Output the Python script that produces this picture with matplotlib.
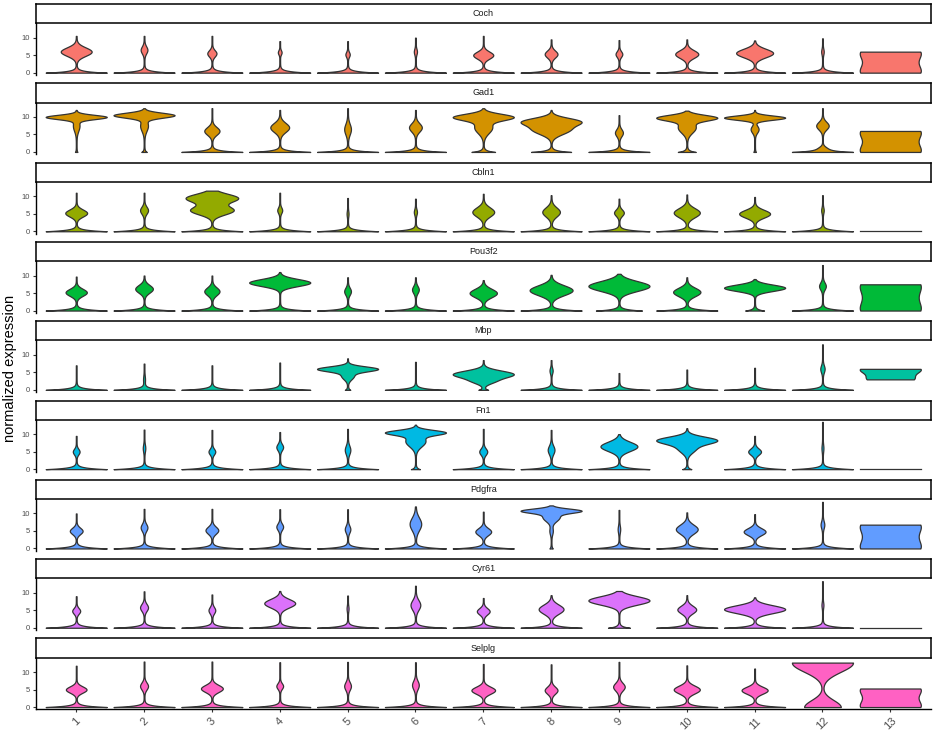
import numpy as np
import matplotlib
matplotlib.use('Agg')
import matplotlib.pyplot as plt

plt.rcParams['font.family'] = ['Liberation Sans', 'DejaVu Sans']

genes = ['Coch', 'Gad1', 'Cbln1', 'Pou3f2', 'Mbp', 'Fn1', 'Pdgfra', 'Cyr61', 'Selplg']
clusters = ['1', '2', '3', '4', '5', '6', '7', '8', '9', '10', '11', '12', '13']
colors = ['#F8766D', '#D39200', '#93AA00', '#00BA38', '#00C19F',
          '#00B9E3', '#619CFF', '#DB72FB', '#FF61C3']
y_ticks = [0, 5, 10]

# one violin per cluster: (zero spike weight, low, high, [(weight, centre, sd), ...])
# None = every cell is zero
coch = [
    (1, 0, 10.5, [(0.5, 6.0, 1.2)]),
    (1, 0, 10.5, [(0.1, 6.5, 1.0)]),
    (1, 0, 10.5, [(0.14, 5.5, 0.9)]),
    (1, 0, 9.0, [(0.05, 5.8, 0.6)]),
    (1, 0, 9.0, [(0.06, 5.2, 0.7)]),
    (1, 0, 10.0, [(0.04, 6.0, 0.8)]),
    (1, 0, 10.5, [(0.32, 5.0, 1.0)]),
    (1, 0, 9.5, [(0.2, 5.3, 1.0)]),
    (1, 0, 9.3, [(0.1, 5.3, 0.8)]),
    (1, 0, 9.5, [(0.37, 5.3, 1.1)]),
    (1, 0, 9.2, [(0.6, 5.6, 1.2)]),
    (1, 0, 9.8, [(0.03, 6.0, 0.8)]),
    (0, 0, 6.0, [(1, 0.0, 2.55), (1, 6.0, 2.55)]),
]
gad1 = [
    (0.03, 0, 12.0, [(1, 10.0, 0.6), (0.1, 7.5, 1.5)]),
    (0.08, 0, 12.5, [(1, 10.5, 0.7), (0.12, 7.5, 1.5)]),
    (1, 0, 12.5, [(0.24, 6.0, 1.1)]),
    (1, 0, 12.0, [(0.3, 7.0, 1.3)]),
    (1, 0, 12.5, [(0.1, 6.5, 1.5)]),
    (1, 0, 12.0, [(0.2, 7.0, 1.2)]),
    (0.4, 0, 12.5, [(1, 10.0, 0.9), (0.3, 7.0, 1.6)]),
    (0.8, 0, 12.0, [(1, 8.8, 1.0), (0.75, 6.5, 1.4)]),
    (1, 0, 10.5, [(0.12, 5.5, 1.0)]),
    (0.3, 0, 11.8, [(1, 9.8, 0.8), (0.3, 7.0, 1.5)]),
    (0.03, 0, 12.0, [(1, 9.8, 0.6), (0.12, 6.5, 1.0)]),
    (1, 0, 12.5, [(0.2, 7.5, 1.1), (0.1, 1.0, 0.6)]),
    (0, 0, 6.0, [(1, 0.0, 2.55), (1, 6.0, 2.55)]),
]
cbln1 = [
    (1, 0, 11.0, [(0.35, 5.2, 1.0)]),
    (1, 0, 11.0, [(0.12, 6.0, 1.0)]),
    (1, 0, 11.6, [(0.85, 9.5, 1.2), (0.7, 6.0, 1.2)]),
    (1, 0, 11.0, [(0.07, 6.0, 0.8)]),
    (1, 0, 9.5, [(0.02, 5.0, 0.8)]),
    (1, 0, 9.3, [(0.04, 5.5, 0.8)]),
    (1, 0, 10.7, [(0.35, 5.5, 1.3)]),
    (1, 0, 10.3, [(0.28, 5.5, 1.3)]),
    (1, 0, 9.3, [(0.15, 5.3, 0.9)]),
    (1, 0, 10.5, [(0.42, 5.3, 1.3)]),
    (1, 0, 9.8, [(0.5, 5.0, 1.1)]),
    (1, 0, 10.3, [(0.03, 6.0, 0.8)]),
    None,
]
pou3f2 = [
    (1, 0, 9.7, [(0.34, 5.2, 1.0)]),
    (1, 0, 10.0, [(0.28, 6.2, 1.1)]),
    (1, 0, 10.0, [(0.24, 5.5, 1.1)]),
    (1, 0, 11.0, [(1, 8.0, 1.0)]),
    (1, 0, 9.5, [(0.1, 5.5, 1.0)]),
    (1, 0, 9.5, [(0.1, 6.0, 1.0)]),
    (1, 0, 8.7, [(0.44, 5.0, 1.2)]),
    (1, 0, 10.2, [(0.7, 5.8, 1.4)]),
    (0.75, 0, 10.5, [(1, 7.0, 1.4)]),
    (1, 0, 9.5, [(0.44, 5.3, 1.2)]),
    (0.3, 0, 9.0, [(1, 6.5, 0.9)]),
    (1, 0, 13.0, [(0.1, 7.0, 1.0)]),
    (0, 0, 7.5, [(1, 0.0, 3.2), (1, 7.5, 3.2)]),
]
mbp = [
    (1, 0, 7.0, []),
    (1, 0, 7.5, [(0.02, 3.0, 1.0)]),
    (1, 0, 7.0, []),
    (1, 0, 7.8, []),
    (0.08, 0, 9.0, [(1, 6.0, 0.7), (0.2, 4.0, 1.0)]),
    (1, 0, 8.0, []),
    (0.15, 0, 8.5, [(1, 4.5, 1.0), (0.3, 2.5, 0.8)]),
    (1, 0, 8.5, [(0.04, 5.5, 0.8)]),
    (1, 0, 4.8, []),
    (1, 0, 5.8, []),
    (1, 0, 6.3, []),
    (1, 0, 13.0, [(0.06, 6.0, 1.0)]),
    (0, 3.0, 6.0, [(1, 6.0, 1.3), (0.75, 3.0, 1.3)]),
]
fn1 = [
    (1, 0, 9.5, [(0.1, 5.0, 0.8)]),
    (1, 0, 11.3, [(0.03, 6.0, 1.0)]),
    (1, 0, 11.2, [(0.1, 5.0, 0.8)]),
    (1, 0, 10.6, [(0.1, 6.3, 0.9)]),
    (1, 0, 11.5, [(0.08, 5.5, 1.2)]),
    (0.15, 0, 12.7, [(1, 10.5, 0.7), (0.35, 8.0, 1.5)]),
    (1, 0, 11.5, [(0.12, 5.0, 0.9)]),
    (1, 0, 11.2, [(0.1, 5.5, 1.2)]),
    (1, 0, 10.0, [(0.6, 6.5, 1.3)]),
    (0.15, 0, 11.7, [(1, 8.3, 1.0), (0.3, 6.0, 1.3)]),
    (1, 0, 9.5, [(0.2, 5.0, 0.9)]),
    (1, 0, 13.5, [(0.02, 6.0, 1.0)]),
    None,
]
pdgfra = [
    (1, 0, 10.0, [(0.2, 5.0, 0.9)]),
    (1, 0, 11.3, [(0.1, 6.0, 1.0)]),
    (1, 0, 11.3, [(0.2, 5.2, 1.0)]),
    (1, 0, 11.2, [(0.1, 6.2, 0.9)]),
    (1, 0, 11.2, [(0.08, 5.5, 1.0)]),
    (1, 0, 12.0, [(0.18, 7.0, 1.8)]),
    (1, 0, 10.5, [(0.25, 4.8, 1.0)]),
    (0.05, 0, 12.3, [(1, 10.8, 0.6), (0.3, 9.0, 1.2), (0.05, 5.0, 1.0)]),
    (1, 0, 11.0, [(0.03, 5.5, 1.0)]),
    (1, 0, 10.3, [(0.35, 5.5, 1.3)]),
    (1, 0, 9.8, [(0.35, 4.8, 1.0)]),
    (1, 0, 13.3, [(0.05, 6.8, 1.0)]),
    (0, 0, 6.8, [(1, 0.0, 2.9), (1, 6.8, 2.9)]),
]
cyr61 = [
    (1, 0, 9.0, [(0.12, 4.8, 0.8)]),
    (1, 0, 10.4, [(0.12, 5.8, 1.0)]),
    (1, 0, 9.5, [(0.1, 5.0, 0.9)]),
    (1, 0, 10.5, [(0.5, 7.0, 1.2)]),
    (1, 0, 9.2, [(0.02, 5.5, 0.8)]),
    (1, 0, 12.0, [(0.15, 6.5, 1.4)]),
    (1, 0, 8.5, [(0.2, 4.7, 0.9)]),
    (1, 0, 9.3, [(0.4, 5.3, 1.3)]),
    (0.35, 0, 10.5, [(1, 7.8, 1.2)]),
    (1, 0, 9.3, [(0.3, 5.2, 1.1)]),
    (1, 0, 8.7, [(1, 5.3, 1.1)]),
    (1, 0, 13.3, [(0.02, 6.5, 0.8)]),
    None,
]
selplg = [
    (1, 0, 11.8, [(0.33, 5.0, 0.9)]),
    (1, 0, 13.0, [(0.12, 6.0, 1.0)]),
    (1, 0, 13.0, [(0.35, 5.3, 1.0)]),
    (1, 0, 12.8, [(0.1, 6.0, 0.8)]),
    (1, 0, 12.9, [(0.1, 6.0, 1.1)]),
    (1, 0, 12.8, [(0.1, 6.3, 1.2)]),
    (1, 0, 12.3, [(0.38, 4.8, 1.0)]),
    (1, 0, 12.2, [(0.2, 4.8, 1.0)]),
    (1, 0, 12.9, [(0.18, 5.8, 1.1)]),
    (1, 0, 11.9, [(0.42, 5.0, 1.1)]),
    (1, 0, 11.0, [(0.42, 4.8, 1.0)]),
    (0, 0, 12.7, [(1, 12.7, 2.6), (0.6, 0.0, 2.0)]),
    (0, 0, 5.3, [(1, 0.0, 2.25), (1, 5.3, 2.25)]),
]
violins = [coch, gad1, cbln1, pou3f2, mbp, fn1, pdgfra, cyr61, selplg]


def violin_shape(spec):
    z, lo, hi, comps = spec
    y = np.linspace(lo, hi, 400)
    d = z * np.exp(-(y - lo) / 0.4) + (0.012 if z > 0 else 0)
    for w, mu, sd in comps:
        d = d + w * np.exp(-0.5 * ((y - mu) / sd) ** 2)
    return y, 0.45 * d / d.max()


W, H = 936, 737
fig = plt.figure(figsize=(W / 100, H / 100), dpi=100)
left, right = 35.5, 931.0
strip_h = 19.3
step = 79.3

for i, (gene, color, vals) in enumerate(zip(genes, colors, violins)):
    top = 4 + i * step
    bot = top + 71
    # strip with gene name
    sax = fig.add_axes([left / W, 1 - (top + strip_h) / H, (right - left) / W, strip_h / H])
    sax.set_xticks([])
    sax.set_yticks([])
    for s in sax.spines.values():
        s.set_linewidth(1.1)
        s.set_color('black')
    sax.text(0.5, 0.5, gene, ha='center', va='center', fontsize=6.5, color='#1A1A1A',
             transform=sax.transAxes)

    ax = fig.add_axes([left / W, 1 - bot / H, (right - left) / W, (bot - top - strip_h) / H])
    for j, spec in enumerate(vals):
        x = j + 1
        if spec is None:
            ax.plot([x - 0.45, x + 0.45], [0, 0], color='#333333', lw=0.9)
            continue
        y, hw = violin_shape(spec)
        ax.fill_betweenx(y, x - hw, x + hw, facecolor=color, edgecolor='#333333', lw=0.9)

    ax.set_xlim(0.4, 13.6)
    ax.set_ylim(-0.67, 14.1)
    ax.set_yticks(y_ticks)
    ax.tick_params(axis='y', labelsize=5.5, labelcolor='#4D4D4D', color='#333333',
                   length=2.5, width=0.8, pad=1.5)
    ax.spines['top'].set_visible(False)
    ax.spines['right'].set_visible(False)
    ax.spines['left'].set_linewidth(1.0)
    ax.patch.set_alpha(0)
    if i == len(genes) - 1:
        ax.set_xticks(range(1, len(clusters) + 1))
        ax.set_xticklabels(clusters, rotation=45, ha='center', va='top')
        ax.tick_params(axis='x', labelsize=8, labelcolor='#4D4D4D', color='#333333',
                       length=2.5, width=0.8, pad=2)
        ax.spines['bottom'].set_linewidth(1.0)
    else:
        ax.set_xticks([])
        ax.spines['bottom'].set_visible(False)

fig.text(0.011, 1 - 368 / H, 'normalized expression', rotation=90, ha='center', va='center',
         fontsize=10.5, color='black')

fig.savefig('out.png', dpi=100)
